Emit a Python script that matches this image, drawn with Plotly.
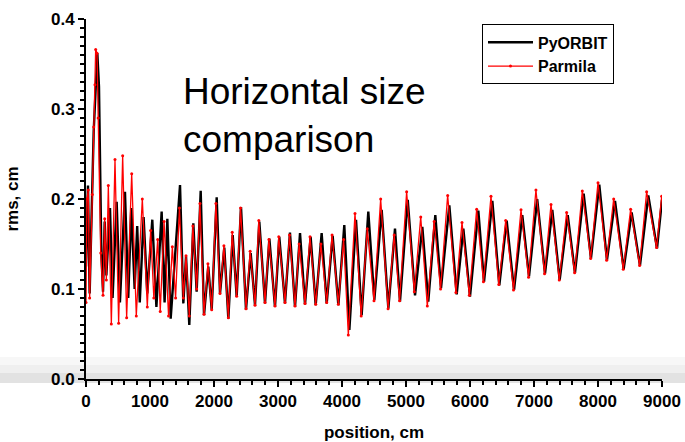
import plotly.graph_objects as go

# PyORBIT horizontal rms size along the linac (turning points of the envelope)
pyorbit_pos = [0, 31, 57, 99, 120, 177, 203, 240, 266, 292, 318, 375, 415, 479, 530,
               609, 660, 708, 760, 800, 840, 900, 958, 1036, 1100, 1182, 1228, 1271,
               1323, 1469, 1521, 1563, 1614, 1677, 1729, 1792, 1844, 1911, 1964, 2042,
               2094, 2161, 2224, 2292, 2354, 2422, 2500, 2573, 2641, 2708, 2797, 2865,
               2953, 3020, 3109, 3187, 3266, 3344, 3422, 3510, 3589, 3682, 3761, 3854,
               3943, 4036, 4115, 4219, 4307, 4411, 4505, 4620, 4724, 4828, 4906, 5027,
               5141, 5255, 5348, 5458, 5547, 5677, 5792, 5896, 6000, 6130, 6219, 6349,
               6458, 6573, 6688, 6817, 6922, 7050, 7172, 7286, 7401, 7527, 7640, 7776,
               7890, 8020, 8140, 8266, 8401, 8526, 8656, 8786, 8922, 9000]
pyorbit_rms = [0.125, 0.215, 0.095, 0.200, 0.275, 0.362, 0.325, 0.140, 0.097, 0.175,
               0.115, 0.190, 0.090, 0.197, 0.085, 0.208, 0.090, 0.190, 0.100, 0.170,
               0.085, 0.180, 0.095, 0.177, 0.080, 0.186, 0.085, 0.178, 0.067, 0.2156,
               0.084, 0.136, 0.060, 0.173, 0.097, 0.209, 0.071, 0.125, 0.077, 0.202,
               0.095, 0.146, 0.067, 0.160, 0.0915, 0.191, 0.077, 0.140, 0.082, 0.175,
               0.084, 0.156, 0.080, 0.158, 0.084, 0.1626, 0.080, 0.162, 0.083, 0.158,
               0.082, 0.162, 0.084, 0.159, 0.082, 0.171, 0.0544, 0.177, 0.071, 0.186,
               0.088, 0.188, 0.0785, 0.167, 0.086, 0.199, 0.093, 0.169, 0.086, 0.182,
               0.101, 0.193, 0.094, 0.167, 0.0915, 0.187, 0.108, 0.198, 0.104, 0.176,
               0.099, 0.182, 0.114, 0.200, 0.117, 0.188, 0.110, 0.182, 0.118, 0.206,
               0.134, 0.216, 0.132, 0.198, 0.122, 0.185, 0.126, 0.204, 0.145, 0.199]

# Parmila horizontal rms size along the linac
parmila_pos = [0, 15, 35, 57, 99, 120, 140, 151, 172, 190, 230, 266, 292, 318, 349,
               396, 453, 510, 573, 635, 714, 786, 880, 958, 1010, 1060, 1120, 1160,
               1220, 1290, 1349, 1400, 1460, 1521, 1563, 1614, 1670, 1729, 1780, 1844,
               1905, 1964, 2030, 2094, 2155, 2224, 2285, 2354, 2415, 2500, 2565, 2641,
               2700, 2797, 2858, 2953, 3012, 3109, 3180, 3266, 3330, 3422, 3500, 3589,
               3670, 3761, 3845, 3943, 4025, 4099, 4203, 4300, 4395, 4500, 4604, 4720,
               4815, 4900, 5010, 5130, 5230, 5333, 5440, 5540, 5651, 5780, 5875, 5990,
               6104, 6210, 6328, 6450, 6558, 6680, 6797, 6915, 7030, 7165, 7266, 7395,
               7510, 7635, 7755, 7885, 8000, 8135, 8245, 8395, 8510, 8650, 8760, 8915,
               8995]
parmila_rms = [0.085, 0.200, 0.210, 0.090, 0.205, 0.280, 0.327, 0.366, 0.362, 0.290,
               0.140, 0.093, 0.178, 0.110, 0.215, 0.061, 0.244, 0.062, 0.248, 0.068,
               0.228, 0.070, 0.200, 0.080, 0.165, 0.090, 0.155, 0.075, 0.175, 0.070,
               0.147, 0.090, 0.190, 0.090, 0.137, 0.070, 0.170, 0.100, 0.195, 0.072,
               0.128, 0.077, 0.195, 0.095, 0.148, 0.068, 0.163, 0.092, 0.190, 0.078,
               0.142, 0.082, 0.176, 0.085, 0.155, 0.081, 0.158, 0.085, 0.160, 0.081,
               0.150, 0.084, 0.158, 0.083, 0.150, 0.085, 0.160, 0.083, 0.155, 0.049,
               0.184, 0.070, 0.167, 0.087, 0.200, 0.078, 0.160, 0.087, 0.208, 0.097,
               0.180, 0.081, 0.175, 0.100, 0.204, 0.096, 0.174, 0.093, 0.1885, 0.108,
               0.203, 0.105, 0.176, 0.099, 0.188, 0.113, 0.210, 0.117, 0.194, 0.110,
               0.185, 0.118, 0.209, 0.134, 0.218, 0.132, 0.200, 0.122, 0.1885, 0.126,
               0.208, 0.146, 0.203]

x_tick_step = 1000
y_tick_step = 0.1

FONT = "Liberation Sans, Arial, sans-serif"

fig = go.Figure()
fig.add_trace(go.Scatter(
    x=pyorbit_pos, y=pyorbit_rms, name="PyORBIT", mode="lines",
    line=dict(color="black", width=2.4),
))
fig.add_trace(go.Scatter(
    x=parmila_pos, y=parmila_rms, name="Parmila", mode="lines+markers",
    line=dict(color="red", width=1.3),
    marker=dict(color="red", size=3),
))

# faint grey bands across the bottom of the page
bands = [(0.0611, 0.0389, "#f7f7f7"), (0.0389, 0.0167, "#efefef"),
         (0.0167, -0.0111, "#e2e2e2")]
shapes = [dict(type="rect", xref="paper", yref="paper", x0=-0.16, x1=1.05,
               y0=lo, y1=hi, fillcolor=c, line=dict(width=0), layer="below")
          for hi, lo, c in bands]

axis_common = dict(
    showline=True, linecolor="black", linewidth=2, ticks="outside",
    tickcolor="black", tickwidth=1.5, ticklen=6, showgrid=False, zeroline=False,
    automargin=False,
    tickfont=dict(family=FONT, size=17, color="black", weight="bold"),
)

fig.update_layout(
    width=685, height=442,
    margin=dict(l=86, r=23, t=19, b=63, autoexpand=False),
    paper_bgcolor="white", plot_bgcolor="rgba(0,0,0,0)",
    shapes=shapes,
    xaxis=dict(
        range=[0, 9000], tickmode="linear", tick0=0, dtick=x_tick_step,
        minor=dict(dtick=200, ticks="outside", ticklen=4, tickcolor="black",
                   tickwidth=1.5, showgrid=False),
        title=dict(text="position, cm", standoff=18,
                   font=dict(family=FONT, size=17, color="black", weight="bold")),
        **axis_common,
    ),
    yaxis=dict(
        range=[0, 0.4], tickmode="linear", tick0=0, dtick=y_tick_step,
        tickformat=".1f",
        minor=dict(dtick=0.01, ticks="outside", ticklen=4, tickcolor="black",
                   tickwidth=1.5, showgrid=False),
        title=dict(text="rms, cm", standoff=28,
                   font=dict(family=FONT, size=17, color="black", weight="bold")),
        **axis_common,
    ),
    legend=dict(
        x=0.6875, y=0.985, xanchor="left", yanchor="top", itemwidth=45,
        bgcolor="white", bordercolor="black", borderwidth=1,
        font=dict(family=FONT, size=16, color="black", weight="bold"),
    ),
    annotations=[dict(
        text="Horizontal size<br>comparison", xref="paper", yref="paper",
        x=0.165, y=0.733, xanchor="left", yanchor="middle", align="left",
        showarrow=False, font=dict(family=FONT, size=37, color="black"),
    )],
)

fig.write_html("out.html")
